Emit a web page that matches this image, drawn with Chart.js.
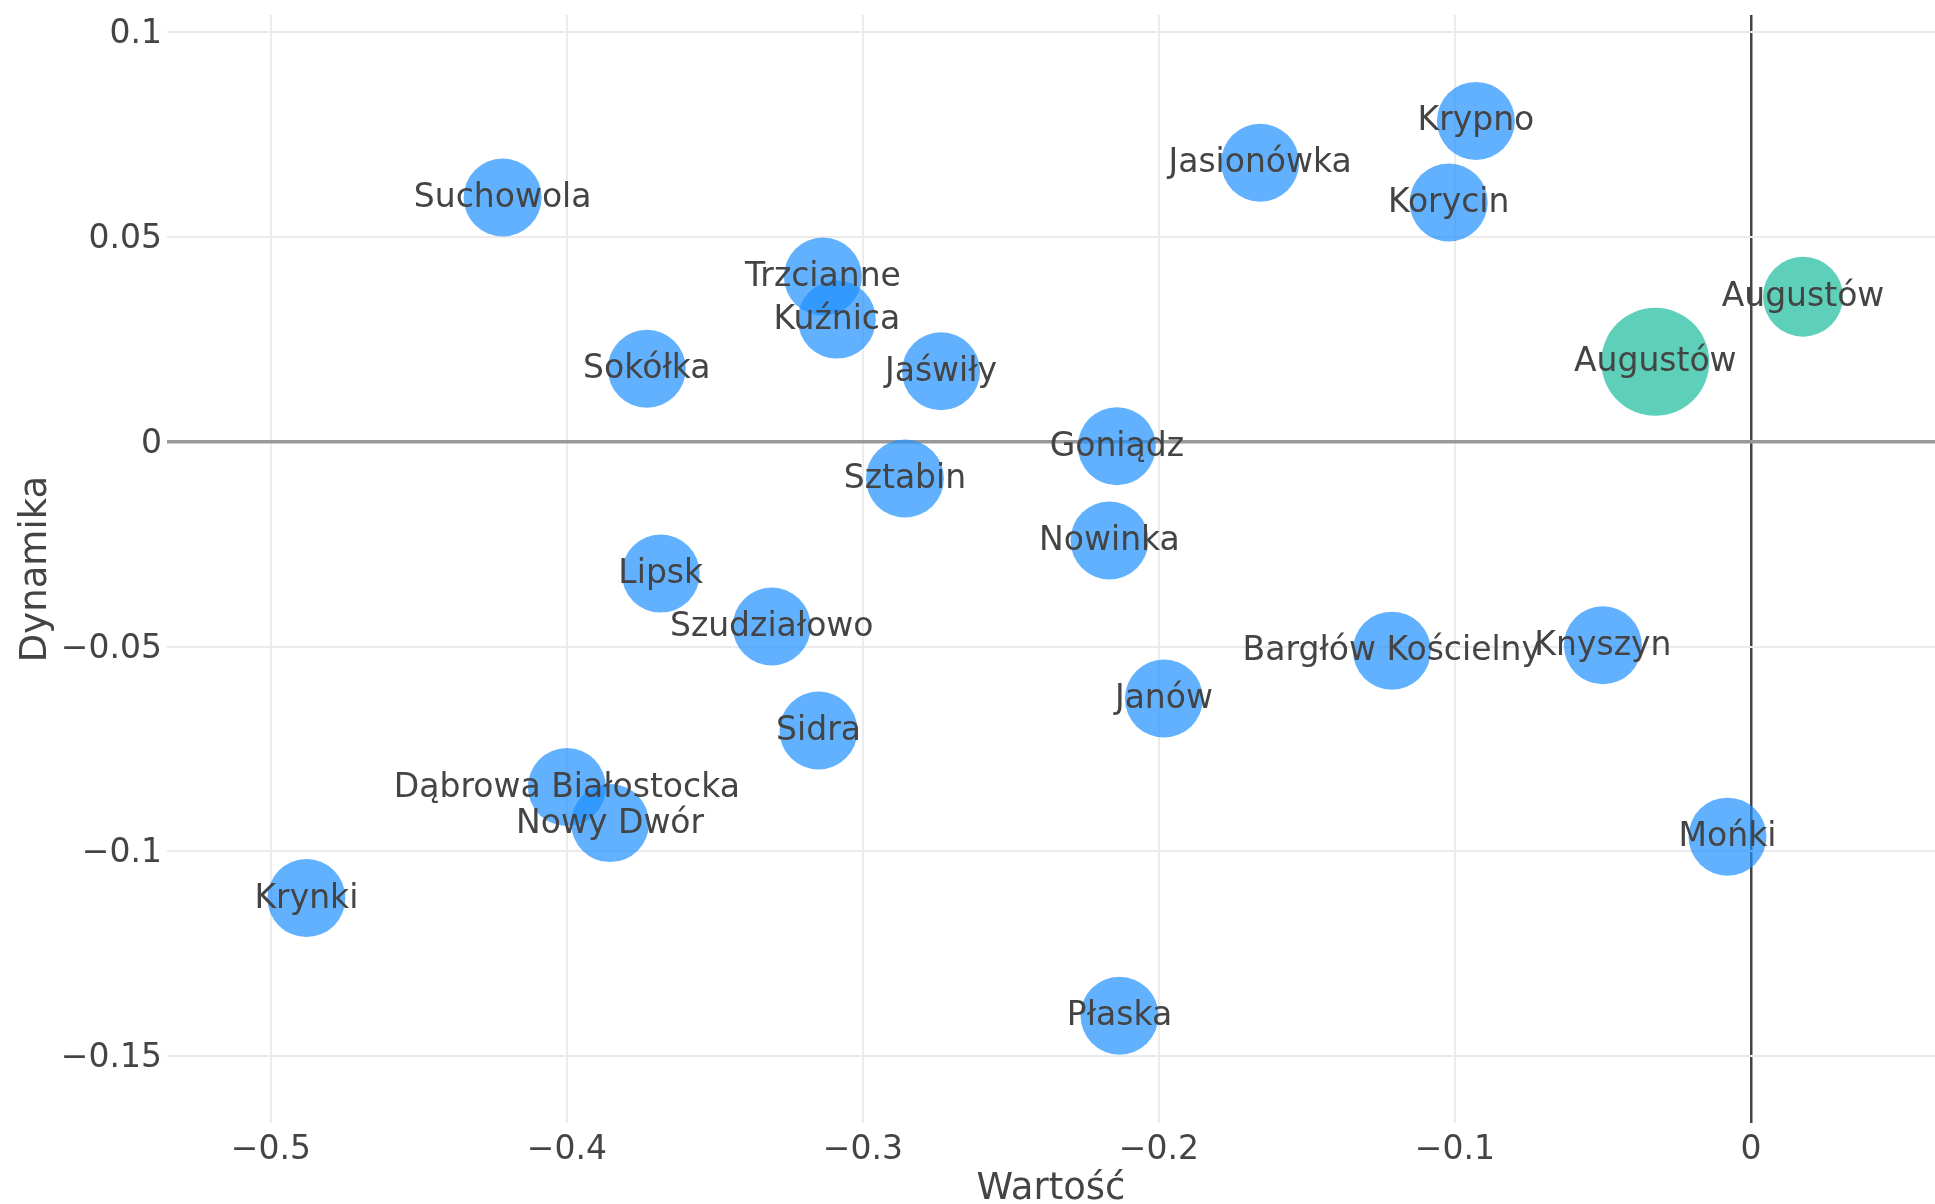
<!DOCTYPE html>
<html>
<head>
<meta charset="utf-8">
<script src="https://cdn.jsdelivr.net/npm/chart.js@4"></script>
<style>
    body { margin: 0; background: #fff; }
    #wrap { width: 1935px; height: 1204px; }
</style>
</head>
<body>
<div id="wrap"><canvas id="chart"></canvas></div>
<script>
// ==== DATA ====
const gminy = ["Krynki", "Suchowola", "Sokółka", "Trzcianne", "Kuźnica", "Jaświły", "Sztabin",
    "Goniądz", "Nowinka", "Lipsk", "Szudziałowo", "Sidra", "Dąbrowa Białostocka", "Nowy Dwór",
    "Płaska", "Janów", "Bargłów Kościelny", "Knyszyn", "Mońki", "Jasionówka", "Krypno", "Korycin"];
const wartosc = [-0.488, -0.4217, -0.373, -0.3135, -0.3088, -0.2736, -0.2858,
    -0.2142, -0.2167, -0.3683, -0.3308, -0.315, -0.400, -0.3854,
    -0.2133, -0.1983, -0.1213, -0.050, -0.0079, -0.1658, -0.0929, -0.1021];
const dynamika = [-0.1114, 0.0596, 0.0178, 0.0403, 0.0298, 0.0172, -0.009,
    -0.0011, -0.0241, -0.0322, -0.0451, -0.0705, -0.0843, -0.0931,
    -0.1401, -0.0627, -0.0510, -0.0497, -0.0964, 0.0681, 0.0783, 0.0584];
const rozmiar = 39;

const miasta = ["Augustów", "Augustów"];
const wartoscMiasta = [-0.0323, 0.0176];
const dynamikaMiasta = [0.0195, 0.0354];
const rozmiarMiasta = [54, 40];

const xTicks = [-0.5, -0.4, -0.3, -0.2, -0.1, 0];
const yTicks = [0.1, 0.05, 0, -0.05, -0.1, -0.15];

const FONT = "'DejaVu Sans', Verdana, sans-serif";
const TEXT = "#444";

// ===== LABELS ON BUBBLES =====
const bubbleLabels = {
    id: "bubbleLabels",
    afterDatasetsDraw(chart) {
        const ctx = chart.ctx;
        ctx.save();
        ctx.font = "33px " + FONT;
        ctx.fillStyle = TEXT;
        ctx.textAlign = "center";
        ctx.textBaseline = "alphabetic";
        chart.data.datasets.forEach((ds, i) => {
            chart.getDatasetMeta(i).data.forEach((pt, j) => {
                ctx.fillText(ds.labels[j], pt.x, pt.y + 9.5);
            });
        });
        ctx.restore();
    }
};

const fmt = v => (v < 0 ? "\u2212" + Math.abs(v) : String(v));

// no extra room for edge labels, plot area is fixed
const noEdgePad = s => {
    s.paddingTop = 0; s.paddingBottom = 0;
    s.paddingLeft = 0; s.paddingRight = 0;
};

new Chart(document.getElementById("chart"), {
    type: "bubble",
    data: {
        datasets: [{
            labels: gminy,
            data: gminy.map((g, i) => ({ x: wartosc[i], y: dynamika[i], r: rozmiar })),
            backgroundColor: "rgba(30,144,255,0.7)",
            borderWidth: 0,
            hoverBorderWidth: 0
        }, {
            labels: miasta,
            data: miasta.map((m, i) => ({ x: wartoscMiasta[i], y: dynamikaMiasta[i], r: rozmiarMiasta[i] })),
            backgroundColor: "rgba(26,188,156,0.7)",
            borderWidth: 0,
            hoverBorderWidth: 0
        }]
    },
    options: {
        responsive: true,
        maintainAspectRatio: false,
        animation: false,
        layout: { autoPadding: false, padding: { top: 15, left: 0, right: 0, bottom: 0 } },
        plugins: { legend: { display: false }, tooltip: { enabled: false } },
        scales: {
            x: {
                type: "linear",
                min: -0.5351,
                max: 0.0622,
                afterBuildTicks: s => { s.ticks = xTicks.map(v => ({ value: v })); },
                afterFit: s => { s.height = 81; noEdgePad(s); },
                border: { display: false },
                grid: {
                    drawTicks: false,
                    color: c => (c.tick && c.tick.value === 0 ? "#444" : "#ebebeb"),
                    lineWidth: c => (c.tick && c.tick.value === 0 ? 2.5 : 2)
                },
                ticks: {
                    padding: 8,
                    color: TEXT,
                    font: { family: FONT, size: 33 },
                    maxRotation: 0,
                    callback: fmt
                },
                title: {
                    display: true,
                    text: "Wartość",
                    color: TEXT,
                    font: { family: FONT, size: 37, lineHeight: 0.8 },
                    padding: 0
                }
            },
            y: {
                type: "linear",
                min: -0.1663,
                max: 0.10415,
                afterBuildTicks: s => { s.ticks = yTicks.map(v => ({ value: v })); },
                afterFit: s => { s.width = 167; noEdgePad(s); },
                border: { display: false },
                grid: {
                    drawTicks: false,
                    color: c => (c.tick && c.tick.value === 0 ? "#999" : "#ebebeb"),
                    lineWidth: c => (c.tick && c.tick.value === 0 ? 3.5 : 2)
                },
                ticks: {
                    padding: 5,
                    labelOffset: 2.5,
                    color: TEXT,
                    font: { family: FONT, size: 33 },
                    callback: fmt
                },
                title: {
                    display: true,
                    text: "Dynamika",
                    color: TEXT,
                    font: { family: FONT, size: 37, lineHeight: 1 },
                    padding: { top: 18, bottom: 0 }
                }
            }
        }
    },
    plugins: [bubbleLabels]
});
</script>
</body>
</html>
